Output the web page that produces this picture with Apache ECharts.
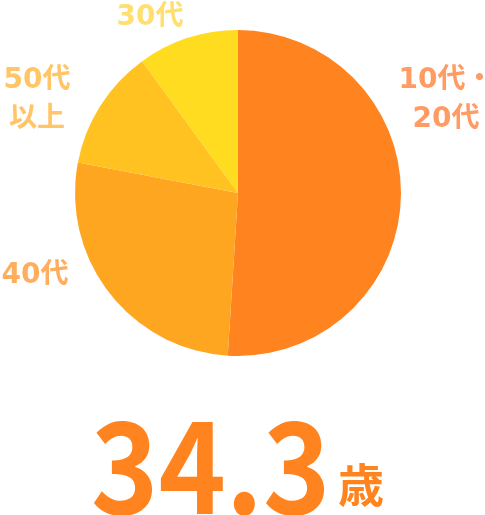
<!DOCTYPE html>
<html>
<head>
<meta charset="utf-8">
<script src="https://cdn.jsdelivr.net/npm/echarts@6/dist/echarts.min.js"></script>
<style>
  html, body { margin: 0; padding: 0; background: #fff; }
  #chart { width: 485px; height: 515px; }
</style>
</head>
<body>
<div id="chart"></div>
<script>
    // 年代別構成比（%）と平均年齢
    var categories = ['10代・\n20代', '40代', '50代\n以上', '30代'];
    var shares = [51, 27, 12, 10];
    var sliceColors = ['#ff8420', '#ffa620', '#ffc221', '#ffdc1f'];
    var labelColors = ['#ff9b63', '#ffad5f', '#ffc566', '#ffdf6e'];
    var averageAge = '34.3';
    var ageUnit = '歳';

    // ラベル中心x・上端y
    var labelPos = [[446, 61], [35, 256], [37, 61], [150, -2]];

    var LABEL_FONT = '"DejaVu Sans", "Noto Sans CJK JP", sans-serif';
    var BIG_FONT = '"Noto Sans CJK JP", "Noto Sans", sans-serif';

    var chart = echarts.init(document.getElementById('chart'), null, { renderer: 'canvas' });

    var labels = categories.map(function (name, i) {
        return {
            type: 'text',
            x: labelPos[i][0],
            y: labelPos[i][1],
            style: {
                text: name,
                fill: labelColors[i],
                font: 'bold 28px ' + LABEL_FONT,
                lineHeight: 39,
                align: 'center',
                verticalAlign: 'top'
            }
        };
    });

    chart.setOption({
        backgroundColor: '#fff',
        animation: false,
        series: [{
            type: 'pie',
            center: [238, 193],
            radius: [0, 163],
            startAngle: 90,
            clockwise: true,
            label: { show: false },
            labelLine: { show: false },
            itemStyle: { borderWidth: 0 },
            data: shares.map(function (v, i) {
                return { name: categories[i], value: v, itemStyle: { color: sliceColors[i] } };
            })
        }],
        graphic: labels.concat([
            {
                type: 'text',
                x: 91,
                y: 402,
                scaleX: 0.9,
                style: { text: averageAge, fill: '#ff8420', font: 'bold 127px ' + BIG_FONT, verticalAlign: 'top' }
            },
            {
                type: 'text',
                x: 338,
                y: 462,
                style: { text: ageUnit, fill: '#ff8420', font: 'bold 46px ' + BIG_FONT, verticalAlign: 'top' }
            }
        ])
    });
</script>
</body>
</html>
